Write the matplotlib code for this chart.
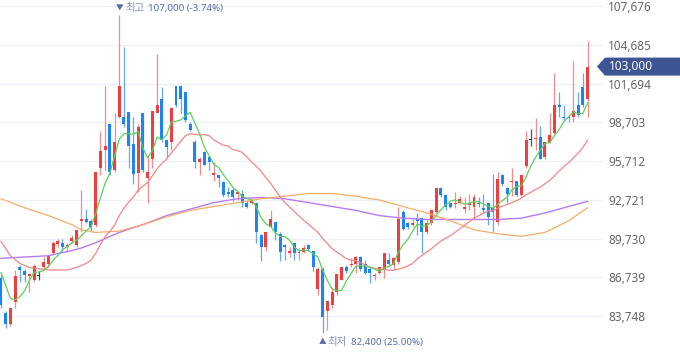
import numpy as np
import pandas as pd
import matplotlib
matplotlib.use('Agg')
import matplotlib.pyplot as plt
from matplotlib.patches import Polygon
from matplotlib.transforms import blended_transform_factory

plt.rcParams['font.family'] = ['Noto Sans', 'Noto Sans CJK KR', 'DejaVu Sans']

# 일봉 (원)
open_ = [86700, 84000, 83100, 84800, 87500, 87200, 86800, 86500, 86900, 87500,
         87800, 88600, 89300, 89400, 89100, 89500, 89200, 91100, 91200, 91100,
         90800, 95200, 96600, 98600, 95000, 99100, 99100, 99500, 97000, 94800,
         99400, 94400, 95900, 99400, 100500, 97300, 97200, 101500, 101500, 101000,
         98600, 97200, 95600, 96400, 96000, 94600, 94600, 94100, 93300, 93500,
         93200, 93200, 92500, 92500, 92500, 90000, 89100, 90600, 91000, 90100,
         89200, 88600, 89400, 88600, 88700, 89200, 88800, 85800, 87400, 84100,
         84600, 85600, 86500, 87500, 87700, 87800, 88300, 87800, 87400, 86800,
         87100, 87300, 88100, 87700, 87900, 91800, 90900, 90800, 91200, 91300,
         90200, 90900, 91800, 93600, 93100, 92500, 92400, 92500, 92000, 92300,
         92200, 92500, 92100, 92500, 92100, 91000, 94600, 93600, 94100, 94200,
         93100, 95300, 97400, 97400, 97600, 96000, 97100, 97900, 100000, 99100,
         99100, 99100, 100000, 101400, 100500]
high = [86900, 84100, 84400, 87300, 87700, 87400, 87100, 87800, 87200, 88300,
        88400, 89500, 89700, 89700, 89400, 90000, 90400, 93500, 92000, 91200,
        94900, 98000, 101500, 98600, 99400, 107000, 104500, 99500, 99100, 98600,
        99400, 96000, 99600, 104000, 101400, 97400, 99800, 101500, 101500, 101000,
        98700, 97300, 96000, 96500, 96100, 95600, 94600, 94200, 93700, 93600,
        93400, 93500, 92600, 92800, 92500, 90100, 90200, 91900, 91000, 90200,
        89300, 89100, 89400, 89000, 89200, 89300, 88800, 87500, 87500, 84900,
        86000, 87100, 87500, 87700, 88200, 88400, 88400, 88100, 87500, 87100,
        87500, 88600, 88600, 88300, 92200, 91900, 91000, 91200, 91700, 91400,
        91200, 92000, 93600, 93700, 93200, 92500, 93300, 93000, 92900, 93200,
        93200, 92900, 93200, 92500, 94700, 94900, 94700, 93700, 95200, 94200,
        94600, 98000, 98200, 99000, 98400, 97200, 99400, 102500, 101000, 100000,
        99300, 103400, 101000, 102500, 105000]
low = [84400, 82800, 83000, 84400, 86400, 86400, 85600, 86400, 86500, 87400,
       87500, 88500, 89100, 88800, 88700, 89400, 89100, 90200, 90900, 90200,
       90600, 94600, 95000, 94600, 94900, 99000, 98300, 95200, 93900, 93300,
       94900, 92500, 95200, 99400, 97200, 96000, 96600, 99900, 99400, 98700,
       98000, 95200, 94600, 95400, 95000, 94200, 93700, 92900, 92900, 92600,
       92700, 92200, 92100, 92400, 89400, 88000, 88800, 90600, 89600, 88000,
       88100, 88300, 88100, 88100, 88600, 88800, 87200, 85400, 82400, 82700,
       84400, 85400, 86500, 87100, 87500, 87100, 87200, 87000, 86300, 86500,
       87000, 86700, 87600, 87400, 87800, 90400, 90500, 90600, 90000, 88600,
       90100, 90800, 91700, 92900, 91900, 92100, 92100, 92400, 91700, 91900,
       91200, 92200, 91700, 90800, 90200, 90800, 93800, 92500, 93000, 93000,
       93000, 95200, 96900, 96600, 95900, 95900, 97100, 97800, 99100, 98800,
       98700, 98700, 99100, 99900, 99100]
close = [84600, 83100, 84400, 86800, 87300, 86900, 87000, 87600, 86900, 87900,
         88400, 89400, 89500, 89100, 89200, 89800, 90400, 91200, 91000, 90600,
         94900, 96500, 96900, 94900, 97200, 101500, 98600, 96900, 94700, 98300,
         95000, 94900, 99600, 100000, 97300, 96800, 99800, 100000, 100500, 98900,
         98100, 95600, 95900, 95400, 95600, 94800, 94400, 93100, 93200, 92900,
         93300, 92500, 92200, 92600, 90200, 89100, 90200, 91200, 90200, 88700,
         89100, 88800, 88600, 88700, 89000, 88900, 87500, 87400, 83700, 84900,
         85600, 87000, 87500, 87200, 87800, 88300, 87400, 87100, 87100, 86900,
         87500, 88600, 87800, 88200, 91200, 90500, 90600, 90900, 91100, 90200,
         90900, 91900, 93600, 93100, 92200, 92200, 92500, 92800, 92200, 92500,
         92900, 92400, 91900, 91400, 91800, 94300, 93900, 93200, 94200, 93100,
         94600, 97300, 97400, 97500, 95900, 97200, 97700, 100000, 99900, 99000,
         99000, 99600, 99300, 100000, 103000]

# 이동평균 앞부분 (화면 이전 데이터 포함분, 그림에서 읽음)
ma5_head = [87100, 86100, 85100, 85000]
ma20_head_idx = [0, 2, 4, 6, 8, 10, 12, 14, 16, 18]
ma20_head = [89500, 88400, 87800, 87500, 87400, 87300, 87300, 87300, 87500, 87800]
ma60_idx = [0, 5, 10, 15, 17, 20, 25, 30, 35, 40, 45, 50, 55, 60, 65, 70,
            75, 80, 85, 90, 95, 100, 105, 110, 115, 120, 124]
ma60 = [92800, 92100, 91500, 90800, 90400, 90200, 90300, 90800, 91400, 91900,
        92200, 92500, 92800, 93000, 93200, 93200, 93000, 92700, 92200, 91700,
        91100, 90400, 90100, 89900, 90200, 91100, 92100]
ma120_idx = [0, 10, 15, 17, 20, 25, 30, 35, 40, 45, 50, 55, 60, 65, 70, 75,
             80, 85, 90, 95, 100, 105, 110, 115, 120, 124]
ma120 = [88200, 88400, 88800, 89000, 89400, 90200, 90800, 91500, 92000, 92500,
         92800, 92900, 92800, 92500, 92200, 91900, 91500, 91300, 91200, 91200,
         91200, 91200, 91300, 91700, 92200, 92600]

yticks = [83748, 86739, 89730, 92721, 95712, 98703, 101694, 104685, 107676]

# PROCEDIMIENTO
o = np.array(open_)
h = np.array(high)
l = np.array(low)
c = np.array(close)
idx = np.arange(len(c))

cs = pd.Series(c, dtype=float)
ma5 = cs.rolling(5).mean().to_numpy()
ma5[:4] = ma5_head
ma20 = cs.rolling(20).mean().to_numpy()
ma20_x = np.concatenate([ma20_head_idx, idx[19:]])
ma20_y = np.concatenate([ma20_head, ma20[19:]])

up_col, dn_col, doji_col = '#f03e3e', '#1c85ef', '#333333'
up_wick, dn_wick = '#f48a8a', '#66a8f0'
body_col = np.where(c > o, up_col, np.where(c < o, dn_col, doji_col))
wick_col = np.where(c > o, up_wick, np.where(c < o, dn_wick, '#555555'))

# GRAFICA
fig = plt.figure(figsize=(6.8, 3.58), dpi=100)
ax = fig.add_axes([0, 0, 603 / 680, 1])

ax.vlines(idx, l, h, colors=wick_col, lw=0.9, zorder=2)
alto = np.maximum(np.abs(c - o), 80)
base = np.minimum(o, c) - np.where(c == o, 40, 0)
ax.bar(idx, alto, bottom=base, width=0.63, color=body_col, lw=0, zorder=2)

ax.plot(ma120_idx, ma120, color='#b67af5', lw=1.0, zorder=3)
ax.plot(ma60_idx, ma60, color='#f9ab68', lw=0.9, zorder=3)
ax.plot(ma20_x, ma20_y, color='#f48686', lw=0.9, zorder=3)
ax.plot(idx, ma5, color='#5ccf5c', lw=0.9, zorder=4)

ax.set_xlim(-0.21, 127.27)
ax.set_ylim(80506, 108140)
ax.set_yticks(yticks)
ax.set_yticklabels([f'{v:,}' for v in yticks])
ax.yaxis.tick_right()
ax.tick_params(axis='y', length=0, pad=3.6, labelsize=8.5, labelcolor='#666666')
ax.tick_params(axis='x', bottom=False, labelbottom=False)
ax.grid(axis='y', color='#eef0f7', lw=1)
ax.set_axisbelow(True)
for s in ax.spines.values():
    s.set_visible(False)

# 최고 / 최저 표시
ih = int(np.argmax(h))
il = int(np.argmin(l))
pct_h = (c[-1] - h[ih]) / h[ih] * 100
pct_l = (c[-1] - l[il]) / l[il] * 100
lab_col, lab_col2 = '#5a6ca8', '#8593be'
ax.annotate('▼', (ih, h[ih]), xytext=(0, 4.5), textcoords='offset points',
            ha='center', va='center', fontsize=5.5, color=lab_col, annotation_clip=False)
ax.annotate('최고', (ih, h[ih]), xytext=(4.1, 4.5), textcoords='offset points',
            ha='left', va='center', fontsize=7.5, color=lab_col2, annotation_clip=False)
ax.annotate(f'{h[ih]:,} ({pct_h:.2f}%)', (ih, h[ih]), xytext=(20.7, 4.5),
            textcoords='offset points', ha='left', va='center', fontsize=7.0,
            fontweight='bold', color=lab_col, annotation_clip=False)
ax.annotate('▲', (il, l[il]), xytext=(0, -6.6), textcoords='offset points',
            ha='center', va='center', fontsize=5.5, color=lab_col, annotation_clip=False)
ax.annotate('최저', (il, l[il]), xytext=(3.8, -6.6), textcoords='offset points',
            ha='left', va='center', fontsize=7.5, color=lab_col2, annotation_clip=False)
ax.annotate(f'{l[il]:,} ({pct_l:.2f}%)', (il, l[il]), xytext=(20.4, -6.6),
            textcoords='offset points', ha='left', va='center', fontsize=7.0,
            fontweight='bold', color=lab_col, annotation_clip=False)

# 현재가 태그
tr = blended_transform_factory(fig.transFigure, ax.transData)
dy = 9 * (108140 - 80506) / 358
ult = c[-1]
tag = Polygon([(597 / 680, ult), (605 / 680, ult + dy), (1.0, ult + dy),
               (1.0, ult - dy), (605 / 680, ult - dy)],
              closed=True, transform=tr, color='#3e5595', lw=0, zorder=5)
fig.add_artist(tag)
fig.text(609 / 680, ult, f'{ult:,}', transform=tr, color='white',
         ha='left', va='center', fontsize=8.5, zorder=6)

fig.savefig('out.png', dpi=100, facecolor='white')
